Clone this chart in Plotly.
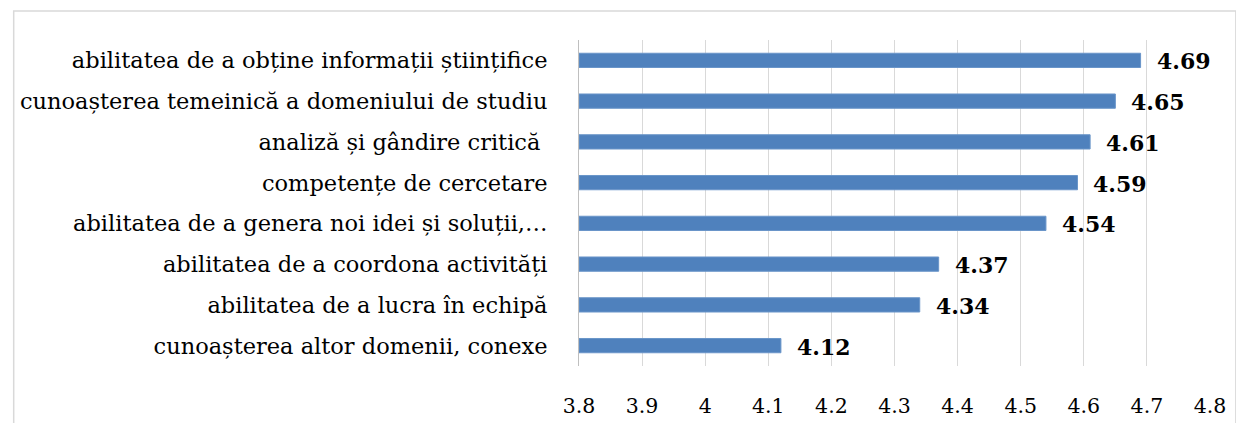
import plotly.graph_objects as go

categories = [
    "abilitatea de a obține informații științifice",
    "cunoașterea temeinică a domeniului de studiu",
    "analiză și gândire critică ",
    "competențe de cercetare",
    "abilitatea de a genera noi idei și soluții,…",
    "abilitatea de a coordona activități",
    "abilitatea de a lucra în echipă",
    "cunoașterea altor domenii, conexe",
]
values = [4.69, 4.65, 4.61, 4.59, 4.54, 4.37, 4.34, 4.12]
tick_vals = [3.8, 3.9, 4.0, 4.1, 4.2, 4.3, 4.4, 4.5, 4.6, 4.7, 4.8]
tick_text = ["3.8", "3.9", "4", "4.1", "4.2", "4.3", "4.4", "4.5", "4.6", "4.7", "4.8"]

FONT = "DejaVu Serif"
BASE = 3.8

fig = go.Figure()
fig.add_trace(go.Bar(
    y=categories,
    x=[v - BASE for v in values],
    base=BASE,
    orientation="h",
    marker=dict(color="#4F81BD", line=dict(color="#6A95C9", width=1)),
    hoverinfo="skip",
))

for c, v in zip(categories, values):
    fig.add_annotation(x=v, y=c, xref="x", yref="y", text=f"<b>{v:.2f}</b>",
                       showarrow=False, xanchor="left", xshift=14, yshift=-1,
                       font=dict(family=FONT, size=22, color="#000000"))

# outer chart frame
fig.add_shape(type="rect", xref="paper", yref="paper",
              x0=-0.8959, x1=1.041, y0=-0.4, y1=1.0892,
              line=dict(color="#D9D9D9", width=1.5), fillcolor="rgba(0,0,0,0)", layer="below")

fig.update_layout(
    width=1244, height=423,
    margin=dict(l=568, r=42, t=32, b=65),
    paper_bgcolor="white", plot_bgcolor="white",
    bargap=0.65,
    showlegend=False,
    font=dict(family=FONT, size=20, color="#000000"),
)
fig.update_xaxes(range=[3.8, 4.8], tickvals=tick_vals, ticktext=tick_text,
                 showgrid=True, gridcolor="#D9D9D9", gridwidth=1,
                 zeroline=False, showline=False, ticks="",
                 ticklabelstandoff=25,
                 tickfont=dict(family=FONT, size=20.5, color="#000000"))
fig.update_yaxes(autorange="reversed", showgrid=False, zeroline=False,
                 showline=True, linecolor="#BFBFBF", linewidth=1, ticks="",
                 ticklabelstandoff=26,
                 tickfont=dict(family=FONT, size=22.5, color="#000000"))

fig.write_html("out.html")
